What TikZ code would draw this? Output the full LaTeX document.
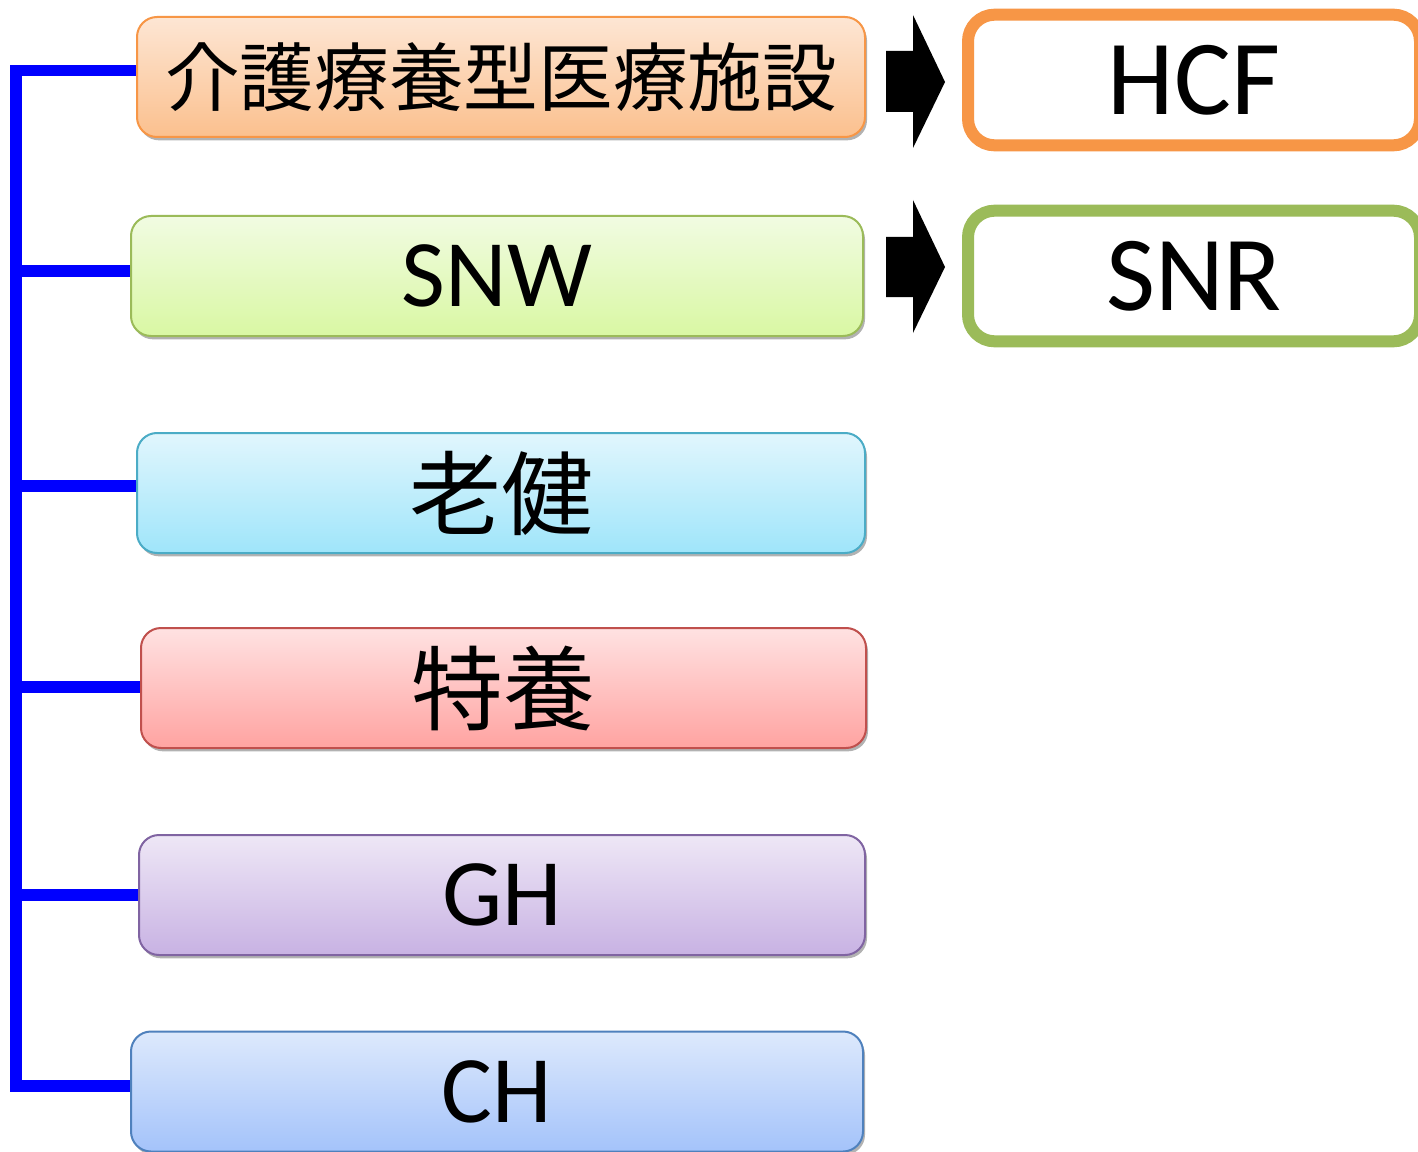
\documentclass[tikz,border=0pt]{standalone}
\usepackage{fontspec}
\setmainfont{Carlito}
\newfontfamily\cjk{Noto Sans CJK JP}
\usetikzlibrary{shadows}
\definecolor{blueline}{HTML}{0000FF}
\definecolor{orB}{HTML}{F79646}\definecolor{orT}{HTML}{FDE6D4}\definecolor{orU}{HTML}{FBC08E}
\definecolor{grB}{HTML}{9BBB59}\definecolor{grT}{HTML}{F1FBE2}\definecolor{grU}{HTML}{D9F8A3}
\definecolor{cyB}{HTML}{4BACC6}\definecolor{cyT}{HTML}{E1F6FD}\definecolor{cyU}{HTML}{9FE5FA}
\definecolor{rdB}{HTML}{C0504D}\definecolor{rdT}{HTML}{FFE2E2}\definecolor{rdU}{HTML}{FFA3A1}
\definecolor{puB}{HTML}{8064A2}\definecolor{puT}{HTML}{EEE7F6}\definecolor{puU}{HTML}{C8B2E3}
\definecolor{blB}{HTML}{4F81BD}\definecolor{blT}{HTML}{DDE9FC}\definecolor{blU}{HTML}{A4C3FA}
\pgfdeclarelayer{bg}
\pgfsetlayers{bg,main}
\tikzset{
  catbox/.style n args={3}{draw=#1, top color=#2, bottom color=#3, line width=1.5pt,
    rounded corners=15pt, minimum height=90pt, inner sep=0pt, text=black,
    drop shadow={shadow xshift=1.5pt, shadow yshift=-2.5pt, opacity=0.3, fill=black}},
  outbox/.style={draw=#1, fill=white, line width=9pt, rounded corners=20pt,
    minimum width=339pt, minimum height=98pt, inner sep=0pt, text=black},
  link/.style={draw=blueline, line width=8.5pt, line join=miter},
  blockarrow/.style={fill=black, draw=none},
  jpbig/.style={font=\cjk\fontsize{69pt}{70pt}\selectfont},
  latbig/.style={font=\fontsize{71.5pt}{72pt}\selectfont},
  latout/.style={font=\fontsize{80pt}{81pt}\selectfont}
}
\begin{document}
\begin{tikzpicture}[x=0.75pt, y=-0.75pt]
\useasboundingbox (0,0) rectangle (1418,1152);
\begin{pgfonlayer}{bg}
\fill[white] (0,0) rectangle (1418,1152);
\end{pgfonlayer}

% coordinates of the bracket
\coordinate (b1) at (16,70.5);
\coordinate (b2) at (16,271);
\coordinate (b3) at (16,486);
\coordinate (b4) at (16,687);
\coordinate (b5) at (16,895);
\coordinate (b6) at (16,1086);

% category boxes
\node[catbox={orB}{orT}{orU}, minimum width=546pt, font=\cjk\fontsize{56pt}{57pt}\selectfont] (box1) at (501,77) {介護療養型医療施設};
\node[catbox={grB}{grT}{grU}, minimum width=549pt, latbig] (box2) at (497,276) {SNW};
\node[catbox={cyB}{cyT}{cyU}, minimum width=546pt, jpbig] (box3) at (501,493) {老健};
\node[catbox={rdB}{rdT}{rdU}, minimum width=543.75pt, jpbig] (box4) at (503.5,688) {特養};
\node[catbox={puB}{puT}{puU}, minimum width=544.5pt, latbig] (box5) at (502,895) {GH};
\node[catbox={blB}{blT}{blU}, minimum width=549pt, latbig] (box6) at (497,1091.5) {CH};

% bracket lines
\begin{pgfonlayer}{bg}
\draw[link] (b1 -| box1.west) -- (b1) -- (b6) -- (b6 -| box6.west);
\draw[link] (b2) -- (b2 -| box2.west);
\draw[link] (b3) -- (b3 -| box3.west);
\draw[link] (b4) -- (b4 -| box4.west);
\draw[link] (b5) -- (b5 -| box5.west);
\end{pgfonlayer}

% output boxes
\node[outbox=orB, latout] (hcf) at (1194,80) {HCF};
\node[outbox=grB, latout] (snr) at (1194,276) {SNR};

% block arrows
\fill[blockarrow] (886,51) -- (913,51) -- (913,15) -- (945,82) -- (913,148) -- (913,112) -- (886,112) -- cycle;
\fill[blockarrow] (886,237) -- (913,237) -- (913,200) -- (945,267) -- (913,333) -- (913,297) -- (886,297) -- cycle;
\end{tikzpicture}
\end{document}
